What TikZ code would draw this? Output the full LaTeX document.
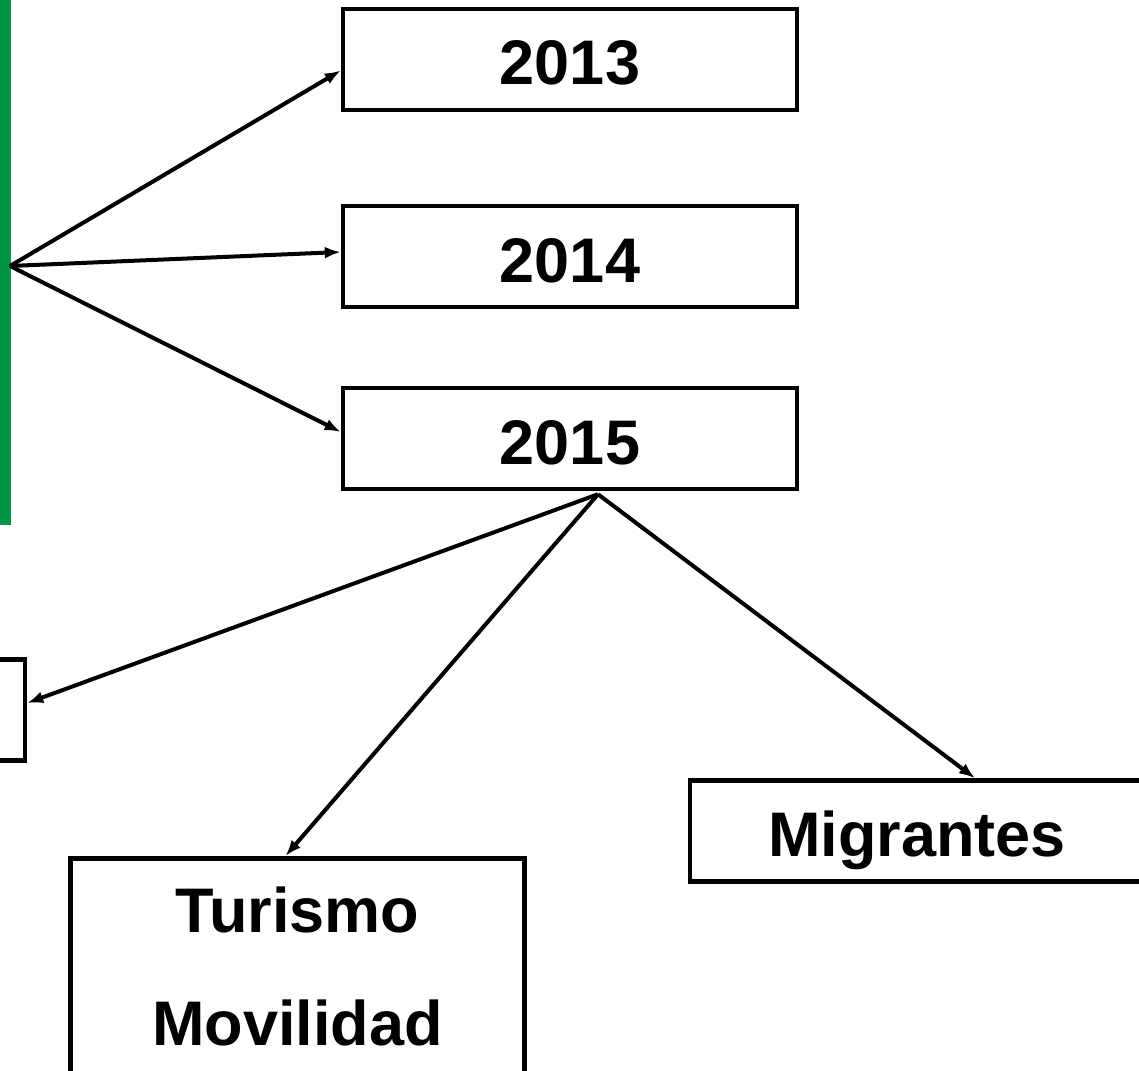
\documentclass[tikz,border=0pt]{standalone}
\usepackage{fontspec}
\setmainfont{Liberation Sans}
\usetikzlibrary{arrows.meta}
\definecolor{bargreen}{HTML}{009444}
\begin{document}
\begin{tikzpicture}[x=1pt,y=-1pt,
  box/.style={draw=black,line width=4.5pt,fill=white,minimum width=454pt,minimum height=101pt,inner sep=0pt,
    font=\fontsize{63}{113}\selectfont\bfseries},
  oneline/.style={text height=51pt,text depth=0pt},
  conn/.style={line width=4pt,-{Latex[length=16pt,width=12pt]}}]
\useasboundingbox (0,0) rectangle (1139,1070);
\clip (0,0) rectangle (1139,1070);
\node[fill=bargreen,minimum width=11pt,minimum height=525pt,inner sep=0pt,anchor=north west] (bar) at (0,0) {};
\coordinate (src) at (10,266);
\node[box,oneline] (b2013) at (570,59.5) {2013};
\node[box,oneline] (b2014) at (570,256.5) {2014};
\node[box,oneline] (b2015) at (570,438.5) {2015};
\node[box] (left) at (-202,710) {};
\node[box,oneline] (migr) at (917,831) {Migrantes};
\node[box,align=center,anchor=north,inner xsep=0pt,inner ysep=29pt,minimum height=0pt] (tur) at (297.5,856) {Turismo\\Movilidad};
\draw[conn] (src) -- ([yshift=-11pt]b2013.west);
\draw[conn] (src) -- ([yshift=4.5pt]b2014.west);
\draw[conn] (src) -- ([yshift=6.5pt]b2015.west);
\coordinate (fork) at ([xshift=28pt,yshift=-3pt]b2015.south);
\draw[conn] (fork) -- ([yshift=7pt]left.east);
\draw[conn] (fork) -- ([xshift=-12pt]tur.north);
\draw[conn] (fork) -- ([xshift=58pt]migr.north);
\end{tikzpicture}
\end{document}
